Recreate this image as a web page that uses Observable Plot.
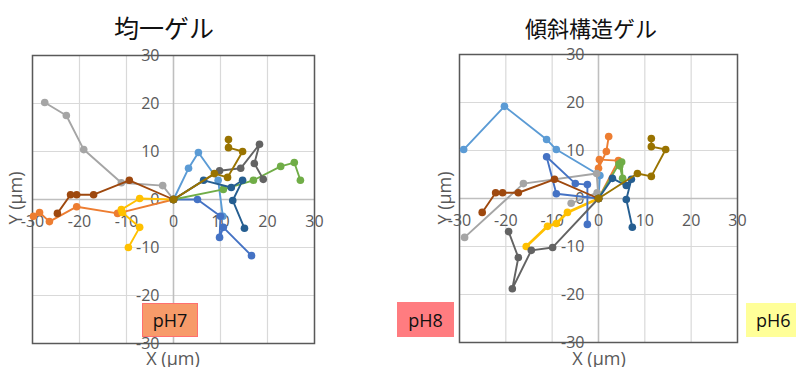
<!DOCTYPE html>
<html>
<head>
<meta charset="utf-8">
<script src="https://cdn.jsdelivr.net/npm/d3@7"></script>
<script src="https://cdn.jsdelivr.net/npm/@observablehq/plot@0.6"></script>
<style>
  html, body { margin: 0; padding: 0; background: #fff; }
  #chart { position: relative; width: 796px; height: 367px; overflow: hidden; font-family: "Open Sans", "Noto Sans", sans-serif; }
  .svgwrap { position: absolute; top: 0; }
  .title { position: absolute; font-family: "Noto Sans CJK JP", sans-serif; color: #111; transform: translate(-50%, -50%); white-space: nowrap; font-weight: 400; line-height: 1; }
  .ylab { position: absolute; font-size: 18px; color: #595959; transform: translate(-50%, -50%) rotate(-90deg); white-space: nowrap; }
  .xlab { position: absolute; font-size: 18px; color: #595959; transform: translateX(-50%); white-space: nowrap; line-height: 1; }
  .phbox { position: absolute; box-sizing: border-box; font-size: 18px; color: #111; display: flex; align-items: center; justify-content: center; font-family: "Open Sans", sans-serif; }
</style>
</head>
<body>
<div id="chart"></div>
<script>
// ---------- DATA ----------
const panelTitles = ["均一ゲル", "傾斜構造ゲル"];
const axisTicks = [-30, -20, -10, 0, 10, 20, 30];
const tickLabels = ["-30", "-20", "-10", "0", "10", "20", "30"];
const seriesNames = ["s1", "s2", "s3", "s4", "s5", "s6", "s7", "s8", "s9", "s10"];
const phLabels = ["pH7", "pH8", "pH6"];

// 均一ゲル (uniform gel) trajectories, [x, y] in µm
const uni_s1 = [[0,0],[3.2,6.5],[5.3,9.8],[9.5,4.0],[10.5,-3.5]];
const uni_s2 = [[0,0],[-11.9,-2.9],[-20.6,-1.5],[-26.4,-4.6],[-28.5,-2.7],[-29.8,-3.5]];
const uni_s3 = [[0,0],[-2.3,2.9],[-11.1,3.5],[-19.1,10.4],[-22.8,17.5],[-27.4,20.2]];
const uni_s4 = [[0,0],[-7.2,0.2],[-11.1,-2.1],[-10.9,-2.7],[-7.2,-5.8],[-9.6,-10.0]];
const uni_s5 = [[0,0],[5.1,0],[10.0,-3.5],[9.8,-7.9],[10.6,-5.8],[16.6,-11.7]];
const uni_s6 = [[0,0],[10.6,2.1],[17.0,4.0],[22.8,6.9],[25.7,7.7],[27.0,4.0]];
const uni_s7 = [[0,0],[6.4,4.0],[12.3,2.5],[14.7,4.0],[12.6,-0.2],[15.1,-6.0]];
const uni_s8 = [[0,0],[-9.4,4.0],[-17.0,1.0],[-20.6,1.0],[-21.9,1.0],[-24.7,-2.9]];
const uni_s9 = [[0,0],[9.8,6.0],[14.3,6.5],[18.3,11.5],[17.2,7.5],[19.1,4.2]];
const uni_s10 = [[0,0],[8.7,5.4],[11.5,4.6],[14.7,10.0],[11.7,10.8],[11.7,12.5]];

// 傾斜構造ゲル (gradient gel) trajectories
const grad_s1 = [[0,0],[0.3,4.8],[-9.1,10.2],[-11.2,12.3],[-20.3,19.2],[-29.1,10.2]];
const grad_s2 = [[0,0],[4.3,7.9],[0.2,8.1],[0,6.3],[1.7,9.8],[2.2,12.9]];
const grad_s3 = [[0,0],[-0.4,5.2],[-16.2,3.1],[-28.9,-8.1]];
const grad_s3b = [[0,0],[-0.3,1.2],[-5.9,-1.0]];
const grad_s4 = [[0,0],[-6.7,-2.9],[-9.1,-5.2],[-11.0,-5.8],[-15.6,-10.0]];
const grad_s5 = [[0,0],[-9.1,1.0],[-11.2,8.7],[-5.0,3.1],[-2.4,2.9],[-2.4,-5.4]];
const grad_s6 = [[0,0],[4.4,7.2],[5.0,7.6],[5.2,4.2],[4.6,6.8]];
const grad_s7 = [[0,0],[3.0,4.2],[6.0,2.7],[7.1,4.0],[6.0,-0.2],[7.3,-6.0]];
const grad_s8 = [[0,0],[-9.5,4.0],[-17.3,1.2],[-20.7,1.2],[-22.2,1.2],[-25.1,-2.9]];
const grad_s9 = [[0,0],[-9.9,-10.2],[-14.5,-10.8],[-18.6,-18.8],[-17.3,-12.3],[-19.4,-6.9]];
const grad_s10 = [[0,0],[8.4,5.2],[11.4,4.6],[14.5,10.2],[11.4,10.8],[11.4,12.5]];

// ---------- STYLES ----------
const seriesColors = {
  s1: "#5B9BD5", s2: "#ED7D31", s3: "#A5A5A5", s4: "#FFC000", s5: "#4472C4",
  s6: "#70AD47", s7: "#255E91", s8: "#9E480E", s9: "#636363", s10: "#997300"
};

const uniformSeries = [
  ["s1", uni_s1], ["s2", uni_s2], ["s3", uni_s3], ["s4", uni_s4], ["s5", uni_s5],
  ["s6", uni_s6], ["s7", uni_s7], ["s8", uni_s8], ["s9", uni_s9], ["s10", uni_s10]
];
const gradientSeries = [
  ["s1", grad_s1], ["s2", grad_s2], ["s3", grad_s3], ["s3", grad_s3b], ["s4", grad_s4], ["s5", grad_s5],
  ["s6", grad_s6], ["s7", grad_s7], ["s8", grad_s8], ["s9", grad_s9], ["s10", grad_s10]
];

function panel(series, opts) {
  const marks = [
    Plot.ruleX(axisTicks, {stroke: "#d9d9d9", strokeWidth: 1.2}),
    Plot.ruleY(axisTicks, {stroke: "#d9d9d9", strokeWidth: 1.2}),
    Plot.ruleX([0], {stroke: "#bfbfbf", strokeWidth: 1.5}),
    Plot.ruleY([0], {stroke: "#bfbfbf", strokeWidth: 1.5}),
    Plot.frame({stroke: "#595959", strokeWidth: 1.5}),
    Plot.text(axisTicks, {x: 0, y: d => d, text: (d, i) => tickLabels[i], textAnchor: "end", dx: -14, fill: "#595959", fontSize: 16, fontFamily: "Open Sans"}),
    Plot.text(axisTicks, {x: d => d, y: 0, text: (d, i) => tickLabels[i], dy: 22, fill: "#595959", fontSize: 16, fontFamily: "Open Sans"})
  ];
  for (const [name, data] of series) {
    const c = seriesColors[name];
    marks.push(Plot.line(data, {x: d => d[0], y: d => d[1], stroke: c, strokeWidth: name === "s4" && opts.thickYellow ? 2.8 : 1.9}));
    marks.push(Plot.dot(data, {x: d => d[0], y: d => d[1], fill: c, r: 3.8}));
  }
  return Plot.plot({
    width: opts.width, height: 367,
    marginLeft: opts.ml, marginRight: opts.mr, marginTop: opts.mt, marginBottom: opts.mb,
    x: {domain: [-30, 30], axis: null},
    y: {domain: [-30, 30], axis: null},
    style: {background: "transparent", overflow: "visible"},
    marks
  });
}

const chart = document.getElementById("chart");
function add(el) { const w = document.createElement("div"); w.appendChild(el); chart.appendChild(w); return w; }

const left = panel(uniformSeries, {width: 400, ml: 32, mr: 86, mt: 55, mb: 24});
const lw = add(left); lw.className = "svgwrap"; lw.style.left = "0px";
const right = panel(gradientSeries, {width: 396, ml: 59, mr: 59, mt: 54, mb: 25, thickYellow: true});
const rw = add(right); rw.className = "svgwrap"; rw.style.left = "400px";

function label(cls, text, css) { const d = document.createElement("div"); d.className = cls; d.textContent = text; Object.assign(d.style, css); chart.appendChild(d); return d; }
label("title", panelTitles[0], {left: "164px", top: "27px", fontSize: "25px"});
label("title", panelTitles[1], {left: "591px", top: "27px", fontSize: "22px"});
label("ylab", "Y (μm)", {left: "15px", top: "198px"});
label("ylab", "Y (μm)", {left: "444px", top: "198px"});
label("xlab", "X (μm)", {left: "173px", top: "349px"});
label("xlab", "X (μm)", {left: "599px", top: "349px"});
label("phbox", phLabels[0], {left: "142px", top: "303px", width: "56px", height: "34px", background: "#F79B6A", border: "1.5px solid #FF7070"});
label("phbox", phLabels[1], {left: "397px", top: "302px", width: "57px", height: "35px", background: "#FF7C80"});
label("phbox", phLabels[2], {left: "746px", top: "303px", width: "58px", height: "34px", background: "#FFFF99", justifyContent: "flex-start", paddingLeft: "10px"});
</script>
</body>
</html>
